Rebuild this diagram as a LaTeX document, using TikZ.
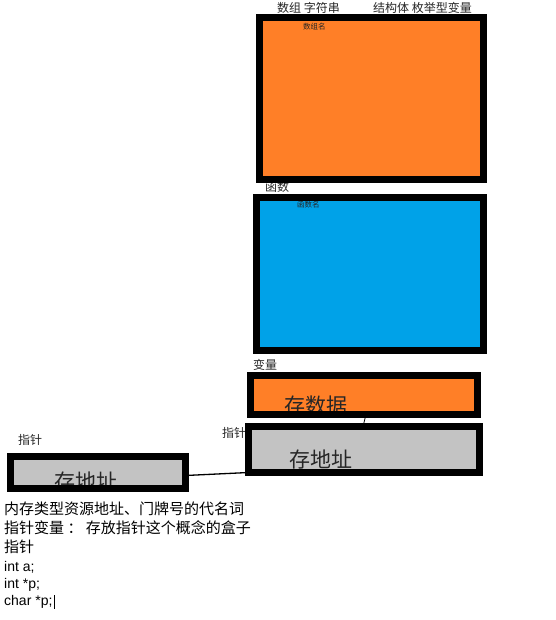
\documentclass[tikz,border=0pt]{standalone}
\usepackage{fontspec}
\setmainfont{Liberation Sans}
\newfontfamily\cjk{Noto Sans CJK SC}
\usetikzlibrary{positioning}
\definecolor{paintorange}{RGB}{255,127,39}
\definecolor{paintblue}{RGB}{0,162,232}
\definecolor{paintgray}{RGB}{195,195,195}

\begin{document}
\begin{tikzpicture}[x=1pt, y=-1pt,
		box/.style={inner sep=0pt, outer sep=0pt},
		frame/.style={draw=black, line width=7pt},
		tag/.style={anchor=west, inner sep=0pt, font=\cjk\fontsize{12}{14}\selectfont, text=black!85},
		small/.style={anchor=west, inner sep=0pt, font=\cjk\fontsize{7.5}{9}\selectfont, text=black!85},
		big/.style={inner sep=0pt, font=\cjk\fontsize{21}{24}\selectfont, text=black!85},
		line/.style={anchor=west, inner sep=0pt, font=\fontsize{14}{16}\selectfont},
		wire/.style={draw=black, line width=1.3pt}
	]
		\useasboundingbox (0,0) rectangle (555,620);
		% boxes
		\node[box, fill=paintorange, minimum width=224pt, minimum height=162pt] (arr) at (371.5,98.5) {};
		\node[box, fill=paintblue, minimum width=227pt, minimum height=153pt] (fn) at (370,274) {};
		\node[box, fill=paintorange, minimum width=227pt, minimum height=39pt] (var) at (364,395) {};
		\node[box, fill=paintgray, minimum width=231pt, minimum height=46pt] (ptr) at (364,449.5) {};
		\node[box, fill=paintgray, minimum width=175pt, minimum height=32pt] (ptrs) at (98,472.5) {};
		% labels
		\node[tag] (arrtag) at (277,8) {数组 字符串};
		\node[tag] (structtag) at (373,8) {结构体 枚举型变量};
		\node[small] (arrname) at (303,27) {数组名};
		\node[tag] (fntag) at (265,187) {函数};
		\node[small] (fnname) at (297,205) {函数名};
		\node[tag] (vartag) at (253,365) {变量};
		\node[tag] (ptrtag) at (222,433) {指针};
		\node[tag] (ptrstag) at (18,440) {指针};
		\node[big] (vartext) at (316,406) {存数据};
		\node[big] (ptrtext) at (321,460) {存地址};
		\node[big] (ptrstext) at (86,482) {存地址};
		% connectors
		\draw[wire] ([yshift=-3pt]ptrs.east) -- ([yshift=-23pt]ptr.west);
		\draw[wire, line width=0.8pt] ([xshift=2pt]var.south) -- ([xshift=-1pt]ptr.north);
		\foreach \b in {arr,fn,var,ptr,ptrs}
			\draw[frame] (\b.north west) rectangle (\b.south east);
		% notes
		\node[line, font=\cjk\fontsize{15}{17}\selectfont] (l1) at (4,509) {内存类型资源地址、门牌号的代名词};
		\node[line, font=\cjk\fontsize{15}{17}\selectfont] (l2) at (4,528) {指针变量 ： 存放指针这个概念的盒子};
		\node[line, font=\cjk\fontsize{15}{17}\selectfont] (l3) at (4,547) {指针};
		\node[line] (c1) at (4,567) {int a;};
		\node[line] (c2) at (4,585) {int *p;};
		\node[line] (c3) at (4,602) {char *p;};
		\draw[line width=0.8pt] ([xshift=1.5pt]c3.north east) -- ([xshift=1.5pt]c3.south east);
	\end{tikzpicture}
\end{document}
